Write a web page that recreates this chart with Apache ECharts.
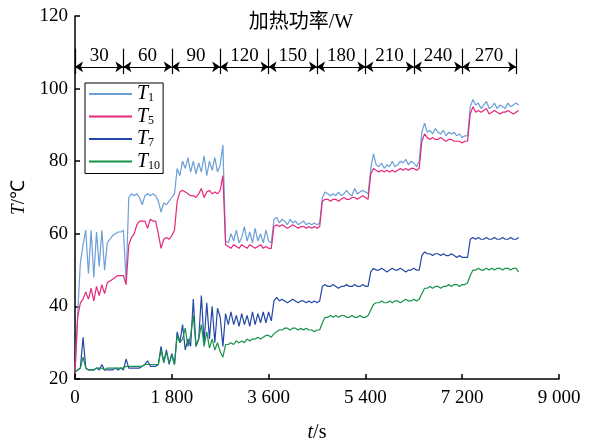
<!DOCTYPE html>
<html>
<head>
<meta charset="utf-8">
<script src="https://cdn.jsdelivr.net/npm/echarts@6/dist/echarts.min.js"></script>
<style>
  html, body { margin: 0; padding: 0; background: #fff; }
  #chart { width: 593px; height: 448px; }
</style>
</head>
<body>
<div id="chart"></div>
<script>
// sample times (s)
var times = [
  0, 50, 100, 150, 200, 250, 300, 350, 400, 450,
  500, 550, 600, 650, 700, 750, 800, 850, 900, 950,
  1000, 1050, 1100, 1150, 1200, 1250, 1300, 1350, 1400, 1450,
  1500, 1550, 1600, 1650, 1700, 1750, 1800, 1850, 1900, 1950,
  2000, 2050, 2100, 2150, 2200, 2250, 2300, 2350, 2400, 2450,
  2500, 2550, 2600, 2650, 2700, 2750, 2800, 2850, 2900, 2950,
  3000, 3050, 3100, 3150, 3200, 3250, 3300, 3350, 3400, 3450,
  3500, 3550, 3600, 3650, 3700, 3750, 3800, 3850, 3900, 3950,
  4000, 4050, 4100, 4150, 4200, 4250, 4300, 4350, 4400, 4450,
  4500, 4550, 4600, 4650, 4700, 4750, 4800, 4850, 4900, 4950,
  5000, 5050, 5100, 5150, 5200, 5250, 5300, 5350, 5400, 5450,
  5500, 5550, 5600, 5650, 5700, 5750, 5800, 5850, 5900, 5950,
  6000, 6050, 6100, 6150, 6200, 6250, 6300, 6350, 6400, 6450,
  6500, 6550, 6600, 6650, 6700, 6750, 6800, 6850, 6900, 6950,
  7000, 7050, 7100, 7150, 7200, 7250, 7300, 7350, 7400, 7450,
  7500, 7550, 7600, 7650, 7700, 7750, 7800, 7850, 7900, 7950,
  8000, 8050, 8100, 8150, 8200, 8250
];

var t1 = [
  22, 38, 52, 57, 61, 49, 61, 48, 60.5, 51,
  61, 50, 57.5, 58.5, 59.5, 60, 60.5, 60.5, 61, 47,
  70, 71, 70.5, 71, 70, 68, 70.5, 71, 70.5, 71,
  70.5, 69, 66, 68.5, 68, 69, 70, 71, 78, 76,
  80, 78, 81, 77, 80, 76.5, 79.5, 77, 81.5, 76,
  80, 77.5, 81, 77, 79, 84.5, 58, 57.5, 60, 58,
  61, 57.5, 59, 62, 58, 60.5, 57.5, 61.5, 58, 60,
  57.5, 61, 58, 57.5, 64, 64.5, 63, 64, 63.5, 62.5,
  64, 63, 63.5, 62.5, 63, 63.5, 62.5, 63, 62.5, 63,
  62.5, 63, 70, 71.5, 71, 70.5, 71, 70.5, 71.5, 70.5,
  71, 72, 71, 70.5, 72.5, 71, 71.5, 72, 71.5, 71,
  78, 82, 79, 78.5, 79.5, 78, 79, 78.5, 80, 78.5,
  79, 80, 79.5, 80.5, 79, 80, 79.5, 78.5, 80, 88,
  90.5, 88, 88.5, 87.5, 89, 88, 87.5, 88.5, 87, 88,
  87.5, 88, 87, 87.5, 86.5, 87, 87, 95, 97, 95.5,
  96, 94.5, 95.5, 96.5, 94.5, 95, 96, 94.5, 95.5, 95,
  94.5, 96, 95, 95.5, 96, 95.5
];

var t5 = [
  21.5, 37, 41, 42, 44, 42, 45, 41.5, 45.5, 43,
  46, 43.5, 46.5, 47, 47.5, 48, 48.5, 48.5, 48.5, 46,
  57, 59, 60, 62.5, 63.5, 63.5, 63.5, 61.5, 64, 63.5,
  63.5, 60, 56, 58.5, 59, 58.5, 59.5, 61, 69, 71.5,
  72, 71.5, 71, 70.5, 70.5, 70, 71, 72.5, 70, 71.5,
  72, 71, 71.5, 71, 72, 76, 57, 56.5, 56, 57,
  56.5, 56, 57, 56.5, 56, 57, 56.5, 56, 56.5, 57,
  56, 56.5, 56, 56, 62, 62.5, 62, 62.5, 62, 61.5,
  62, 62.5, 62, 61.5, 62, 62, 61.5, 62, 61.5, 62,
  61.5, 62, 69, 69.5, 69.5, 69, 69.5, 69.5, 69, 69.5,
  70, 69.5, 69.5, 70, 70, 69.5, 70, 70.5, 70, 69.5,
  76.5, 78, 77.5, 77, 77.5, 77, 77.5, 77, 77.5, 77,
  77.5, 78, 77.5, 78, 77.5, 78, 78, 77.5, 78, 85.5,
  87.5, 86.5, 86, 86.5, 86, 86, 86.5, 86, 85.5, 86,
  86, 85.5, 85.5, 85.5, 85, 85.5, 85.5, 93, 95, 93.5,
  94, 93.5, 94, 94.5, 93, 93.5, 94, 93.5, 93, 93.5,
  93.5, 94, 93.5, 93, 93.5, 94
];

var t7 = [
  22, 22.5, 23, 31.5, 23, 22.5, 22.5, 22.5, 23, 22.5,
  24, 22.5, 22.5, 22.5, 22.5, 23, 22.5, 23, 22.5, 25.5,
  23, 23, 23, 23, 23, 23.5, 24, 25, 23.5, 23.5,
  23.5, 24, 29, 24.5, 28, 24, 27, 24, 33, 30,
  35, 28, 31, 29, 42, 29, 31, 43, 30, 41,
  31, 40, 30, 39.5, 37, 29, 38, 35, 38.5, 35,
  37.5, 34.5, 38, 35, 37.5, 34.5, 38.5, 35, 38, 35.5,
  38.5, 35.5, 38.5, 36, 41.5, 42.5, 41.5, 42, 41.5, 41,
  41.5, 42, 41.5, 41, 41.5, 41.5, 41, 41.5, 41, 41.5,
  41, 41.5, 45.5, 46, 45.5, 45.5, 46, 45.5, 45, 45.5,
  45.5, 46, 45.5, 45.5, 46, 45.5, 45.5, 46, 45.5, 45.5,
  49.5, 50.5, 50, 50, 50.5, 50, 49.5, 50, 50.5, 50,
  50, 50.5, 50, 49.5, 50, 50, 50.5, 50, 50, 54,
  55, 54.5, 54.5, 54, 54.5, 54.5, 54, 54.5, 54, 54,
  54.5, 54, 53.5, 54, 53.5, 53.5, 53.5, 58.5, 59, 58.5,
  59, 58.5, 58.5, 59, 58.5, 58.5, 59, 58.5, 58.5, 59,
  58.5, 58.5, 59, 58.5, 58.5, 59
];

var t10 = [
  22, 22.5, 23, 26, 23, 22.5, 22.5, 22.5, 23, 23,
  23, 22.5, 23, 23, 23, 23, 23, 23, 23, 23.5,
  23.5, 23.5, 23.5, 23.5, 23.5, 23.5, 24, 24, 24, 24,
  24, 24, 28, 24.5, 27.5, 24.5, 26.5, 24, 32, 30,
  31, 34, 29, 32, 37.5, 29, 31, 35, 29, 33,
  28.5, 31, 28, 30, 27.5, 26, 29.5, 29.5, 30, 29.5,
  30.5, 30, 30.5, 30, 31, 30.5, 31, 31, 31.5, 31,
  31.5, 32, 32, 31.5, 32.5, 33, 33.5, 33.5, 34, 34,
  33.5, 34, 34, 33.5, 34, 33.5, 34, 33.5, 33.5, 33,
  33.5, 33.5, 35.5, 37, 37, 37.5, 37, 37.5, 37, 37.5,
  37.5, 37, 37, 37.5, 37, 37, 37.5, 37, 37, 37.5,
  39, 40.5, 41, 41, 41.5, 41, 41, 41.5, 41, 41.5,
  41.5, 41, 41.5, 42, 41.5, 41.5, 42, 41.5, 42, 43.5,
  45, 45, 45.5, 45, 45.5, 45.5, 45, 45.5, 45.5, 46,
  45.5, 46, 46, 45.5, 46, 46, 46.5, 48.5, 50, 50,
  50.5, 50, 50, 50.5, 50, 50.5, 50, 50.5, 50.5, 50,
  50.5, 50.5, 50, 50.5, 50.5, 49.5
];

// heating power stages
var powerLabels = ['30', '60', '90', '120', '150', '180', '210', '240', '270'];
var powerBounds = [0, 900, 1800, 2700, 3600, 4500, 5400, 6300, 7200, 8200];

var serif = '"Liberation Serif", "Times New Roman", serif';
var black = '#000';

var arrowLevel = 106;
var powerArrows = [];
for (var i = 0; i < powerLabels.length; i++) {
  powerArrows.push([
    { coord: [powerBounds[i], arrowLevel], name: powerLabels[i] },
    { coord: [powerBounds[i + 1], arrowLevel] }
  ]);
}
var powerTicks = powerBounds.map(function (b) {
  return [{ coord: [b, 104] }, { coord: [b, 111] }];
});

function lineSeries(name, values, color) {
  return {
    name: name,
    type: 'line',
    symbol: 'none',
    lineStyle: { color: color, width: 1.2 },
    itemStyle: { color: color },
    emphasis: { disabled: true },
    data: times.map(function (t, i) { return [t, values[i]]; })
  };
}

var chart = echarts.init(document.getElementById('chart'));
var option = {
  animation: false,
  grid: { left: 75, right: 34, top: 16, bottom: 65 },
  graphic: [{
    type: 'text',
    x: 301,
    y: 23,
    style: {
      text: '加热功率/W',
      fill: black,
      font: '20px "Liberation Serif", "Noto Sans CJK SC"',
      align: 'center',
      verticalAlign: 'middle',
      textAlign: 'center',
      textVerticalAlign: 'middle'
    }
  }],
  legend: {
    data: ['T1', 'T5', 'T7', 'T10'],
    orient: 'vertical',
    left: 85,
    top: 83,
    icon: 'rect',
    itemWidth: 43,
    itemHeight: 2,
    itemGap: 2.5,
    padding: [1, 3, 2, 4],
    borderColor: black,
    borderWidth: 1,
    formatter: function (name) {
      return '{i|T}{s|' + name.slice(1) + '}';
    },
    textStyle: {
      rich: {
        i: { fontFamily: serif, fontStyle: 'italic', fontSize: 20, color: black },
        s: { fontFamily: serif, fontSize: 12, color: black, verticalAlign: 'bottom', padding: [8, 0, 0, 0] }
      }
    }
  },
  xAxis: {
    type: 'value',
    min: 0,
    max: 9000,
    interval: 1800,
    name: '{i|t}/s',
    nameLocation: 'middle',
    nameGap: 44,
    nameTextStyle: {
      fontFamily: serif, fontSize: 20, color: black,
      rich: { i: { fontFamily: serif, fontStyle: 'italic', fontSize: 20, color: black } }
    },
    axisLine: { lineStyle: { color: black, width: 1.5 } },
    axisTick: { inside: true, length: 5, lineStyle: { color: black, width: 1.5 } },
    splitLine: { show: false },
    axisLabel: {
      color: black, fontFamily: serif, fontSize: 19, margin: 10,
      formatter: function (v) {
        if (v < 1000) return String(v);
        var rest = String(v % 1000);
        while (rest.length < 3) rest = '0' + rest;
        return Math.floor(v / 1000) + ' ' + rest;
      }
    }
  },
  yAxis: {
    type: 'value',
    min: 20,
    max: 120,
    interval: 20,
    name: '{i|T}/℃',
    nameLocation: 'middle',
    nameGap: 38,
    nameTextStyle: {
      fontFamily: serif, fontSize: 19, color: black,
      rich: { i: { fontFamily: serif, fontStyle: 'italic', fontSize: 19, color: black } }
    },
    axisLine: { show: true, lineStyle: { color: black, width: 1.5 } },
    axisTick: { show: true, inside: true, length: 5, lineStyle: { color: black, width: 1.5 } },
    splitLine: { show: false },
    axisLabel: { color: black, fontFamily: serif, fontSize: 19, margin: 7 }
  },
  series: [
    lineSeries('T1', t1, '#6a9fd8'),
    lineSeries('T5', t5, '#e6287c'),
    lineSeries('T7', t7, '#2348a6'),
    lineSeries('T10', t10, '#17924a'),
    {
      name: 'power',
      type: 'line',
      data: [],
      silent: true,
      markLine: {
        silent: true,
        animation: false,
        symbol: ['arrow', 'arrow'],
        symbolSize: 8,
        lineStyle: { color: black, width: 1.2, type: 'solid' },
        label: {
          show: true, position: 'middle', formatter: '{b}', distance: 1,
          color: black, fontFamily: serif, fontSize: 19
        },
        emphasis: { disabled: true },
        data: powerArrows
      }
    },
    {
      name: 'powerTicks',
      type: 'line',
      data: [],
      silent: true,
      markLine: {
        silent: true,
        animation: false,
        symbol: ['none', 'none'],
        lineStyle: { color: black, width: 1.2, type: 'solid' },
        label: { show: false },
        emphasis: { disabled: true },
        data: powerTicks
      }
    }
  ]
};
chart.setOption(option);
</script>
</body>
</html>
